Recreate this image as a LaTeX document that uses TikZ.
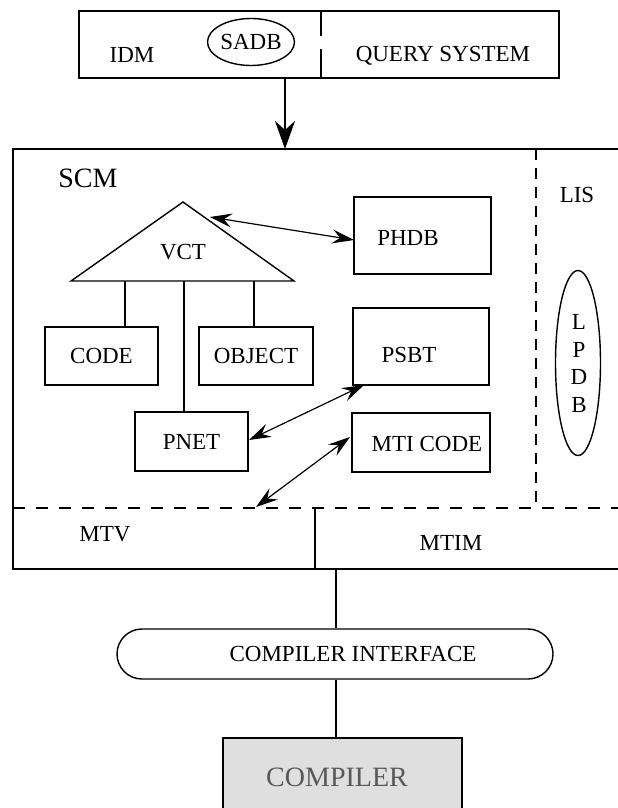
\documentclass[tikz,border=0pt]{standalone}
\usepackage{fontspec}
\setmainfont{Liberation Serif}
\usetikzlibrary{arrows.meta,shapes.geometric}
\tikzset{
  dblhead/.tip={Stealth[length=22pt,width=14pt,inset=8pt]}
}
\begin{document}
\begin{tikzpicture}[x=1pt,y=-1pt,
  box/.style={draw,line width=1.4pt,inner sep=0pt},
  lbl/.style={inner sep=0pt,font=\fontsize{23}{26}\selectfont},
  biglbl/.style={inner sep=0pt,font=\fontsize{28}{32}\selectfont},
  ln/.style={line width=1.4pt},
  dsh/.style={line width=2pt,dash pattern=on 12pt off 11pt},
  dbl/.style={line width=1.2pt,dblhead-dblhead}
]
\useasboundingbox (0,0) rectangle (618,808);
% top box
\node[box,minimum width=480pt,minimum height=67pt] (top) at (319,44.5) {};
\node[lbl] (idm) at (132,55) {IDM};
\node[draw,ellipse,line width=1.4pt,minimum width=87pt,minimum height=47pt,inner sep=0pt,font=\fontsize{23}{26}\selectfont] (sadb) at (251,42) {SADB};
\node[lbl] (qs) at (443,56) {QUERY SYSTEM};
\coordinate (d1) at (321,11);
\coordinate (d2) at (321,36);
\coordinate (d3) at (321,49);
\coordinate (d4) at (321,78);
\draw[ln] (d1) -- (d2) (d3) -- (d4);
% big box
\coordinate (bbtr) at (618,149);
\coordinate (bbtl) at (13,149);
\coordinate (bbbl) at (13,569);
\coordinate (bbbr) at (618,569);
\draw[ln] (bbtr) -- (bbtl) -- (bbbl) -- (bbbr);
\coordinate (arrS) at (285,78);
\coordinate (arrE) at (285,149);
\draw[ln,-{Stealth[length=28pt,width=20pt,inset=9pt]}] (arrS) -- (arrE);
\node[biglbl] (scm) at (88,178) {SCM};
% VCT triangle
\coordinate (apex) at (183,202);
\coordinate (bl) at (71,281);
\coordinate (br) at (294,281);
\draw[ln,line join=miter] (apex) -- (bl) -- (br) -- cycle;
\node[lbl] (vct) at (183,252) {VCT};
\node[box,minimum width=113pt,minimum height=58pt,font=\fontsize{23}{26}\selectfont] (code) at (101.5,356) {CODE};
\node[box,minimum width=114pt,minimum height=58pt,font=\fontsize{23}{26}\selectfont] (object) at (256,356) {OBJECT};
\node[box,minimum width=113pt,minimum height=59pt,font=\fontsize{23}{26}\selectfont] (pnet) at (191.5,441.5) {PNET};
\node[box,minimum width=137pt,minimum height=77pt] (phdb) at (422.5,235.5) {};
\node[lbl] at (408,238) {PHDB};
\node[box,minimum width=136pt,minimum height=77pt] (psbt) at (421,346.5) {};
\node[lbl] at (409,355) {PSBT};
\node[box,minimum width=138pt,minimum height=59pt] (mti) at (421,442.5) {};
\node[lbl] at (427,444) {MTI CODE};
\coordinate (v1) at (125,281);
\coordinate (v2) at (254,281);
\coordinate (v3) at (184,281);
\draw[ln] (v1) -- (v1 |- code.north);
\draw[ln] (v2) -- (v2 |- object.north);
\draw[ln] (v3) -- (v3 |- pnet.north);
% arrows
\coordinate (a1) at (210,217);
\coordinate (a2) at (354,240);
\draw[dbl] (a1) -- (a2);
\coordinate (b1) at (249,440);
\coordinate (b2) at (364,385);
\draw[dbl] (b1) -- (b2);
\coordinate (c1) at (350,437);
\coordinate (c2) at (256,507);
\draw[dbl] (c1) -- (c2);
% dashed lines
\coordinate (h1) at (13,508);
\coordinate (h2) at (618,508);
\draw[dsh] (h1) -- (h2);
\coordinate (l1) at (536,149);
\coordinate (l2) at (536,508);
\draw[line width=2pt,dash pattern=on 11pt off 8pt] (l1) -- (l2);
\node[lbl] (lis) at (577,195) {LIS};
\node[draw,ellipse,line width=1.4pt,minimum width=45pt,minimum height=185pt,inner sep=0pt] (lpdb) at (578,363) {};
\node[lbl] at (579,322) {L};
\node[lbl] at (579,350) {P};
\node[lbl] at (579,377) {D};
\node[lbl] at (579,405) {B};
% MTV / MTIM
\coordinate (m1) at (315,508);
\coordinate (m2) at (315,569);
\draw[ln] (m1) -- (m2);
\node[lbl] (mtv) at (105,534) {MTV};
\node[lbl] (mtim) at (451,543) {MTIM};
% compiler interface
\node[draw,line width=1.4pt,rounded corners=25pt,minimum width=436pt,minimum height=50pt,inner sep=0pt] (ci) at (335,654) {};
\node[lbl] at (353,654) {COMPILER INTERFACE};
\coordinate (k1) at (336,569);
\draw[ln] (k1) -- (k1 |- ci.north);
\coordinate (k2) at (336,738);
\draw[ln] (k1 |- ci.south) -- (k2);
% compiler
\coordinate (cp1) at (223,812);
\coordinate (cp2) at (223,738);
\coordinate (cp3) at (462,738);
\coordinate (cp4) at (462,812);
\fill[gray!25] (cp1) -- (cp2) -- (cp3) -- (cp4) -- cycle;
\draw[ln] (cp1) -- (cp2) -- (cp3) -- (cp4);
\node[biglbl,text=black!65] (comp) at (337,777) {COMPILER};
\end{tikzpicture}
\end{document}
